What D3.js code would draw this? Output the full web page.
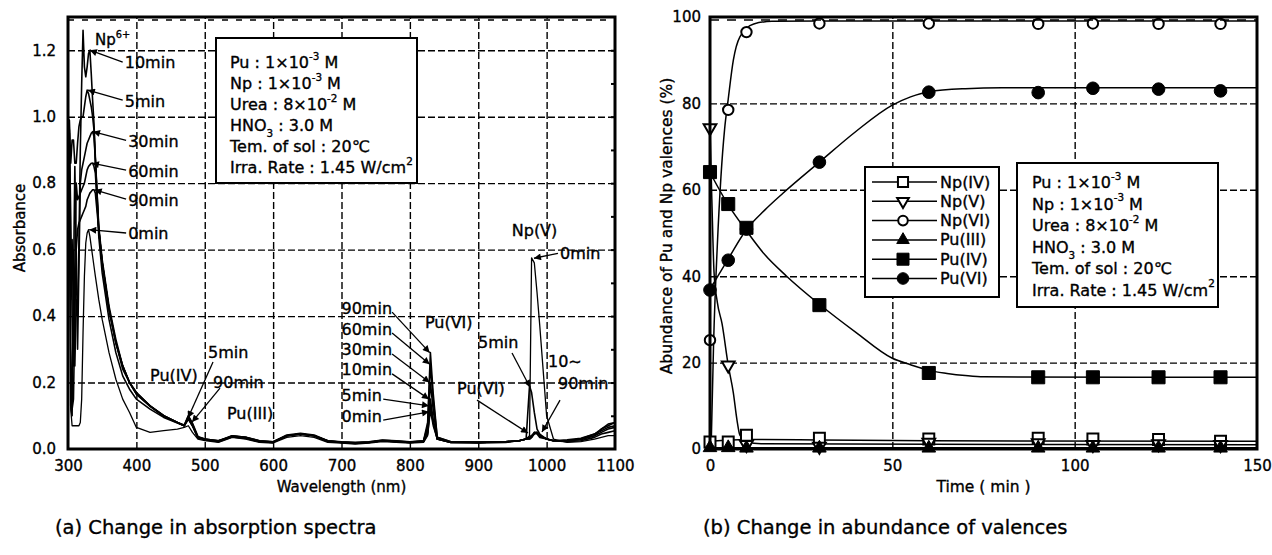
<!DOCTYPE html>
<html>
<head>
<meta charset="utf-8">
<script src="https://cdn.jsdelivr.net/npm/d3@7"></script>
<style>
  html, body { margin: 0; padding: 0; background: #fff; }
  svg { display: block; font-family: "DejaVu Sans", "Noto Sans", sans-serif; }
  svg text { stroke: #000; stroke-width: 0.35px; }
</style>
</head>
<body>
<svg id="chart" width="1272" height="555"></svg>
<script>
// ================= data : (a) absorption spectra =================
const wavelengths = [
  300,302,304,306,308,310,312,314,316,318,320,322,324,326,328,330,332,334,336,338,340,
  345,350,360,370,380,390,400,420,440,460,470,476,482,490,500,
  520,540,560,580,600,620,640,660,680,700,720,740,760,780,800,820,
  826,830,834,840,860,
  900,940,960,970,975,978,982,986,990,1000,1010,
  1030,1050,1070,1080,1090,1100
];
const abs0min = [
  0.98,0.97,0.12,0.07,0.07,0.07,0.07,0.07,0.07,0.08,0.15,0.35,0.52,0.62,0.65,0.66,0.64,0.61,0.58,0.55,0.52,
  0.45,0.39,0.29,0.21,0.15,0.11,0.065,0.05,0.055,0.06,0.065,0.07,0.05,0.03,0.025,
  0.02,0.035,0.03,0.02,0.018,0.035,0.04,0.035,0.02,0.018,0.015,0.018,0.022,0.02,0.018,0.02,
  0.04,0.115,0.07,0.03,0.02,
  0.018,0.02,0.025,0.03,0.04,0.575,0.56,0.47,0.37,0.1,0.03,
  0.02,0.022,0.03,0.035,0.04,0.04
];
const abs5min = [
  0.99,0.99,0.86,0.93,0.93,0.86,0.86,0.92,0.97,0.99,1.0,1.0,1.03,1.06,1.08,1.07,1.05,1.03,1.0,0.96,0.87,
  0.64,0.53,0.39,0.29,0.22,0.18,0.15,0.12,0.095,0.078,0.07,0.095,0.07,0.035,0.03,
  0.022,0.04,0.035,0.022,0.02,0.04,0.045,0.04,0.022,0.02,0.017,0.02,0.025,0.022,0.02,0.022,
  0.045,0.13,0.08,0.03,0.02,
  0.02,0.02,0.025,0.03,0.19,0.17,0.11,0.06,0.045,0.03,0.025,
  0.022,0.025,0.035,0.045,0.05,0.055
];
const abs10min = [
  0.98,0.62,0.45,0.63,0.40,0.25,0.45,0.40,0.62,0.90,1.10,1.26,1.15,1.12,1.15,1.19,1.20,1.13,1.05,0.98,0.88,
  0.66,0.56,0.42,0.32,0.25,0.2,0.17,0.13,0.10,0.08,0.07,0.10,0.075,0.035,0.03,
  0.025,0.04,0.035,0.025,0.022,0.04,0.045,0.04,0.025,0.02,0.018,0.02,0.025,0.022,0.02,0.022,
  0.05,0.15,0.09,0.03,0.02,
  0.02,0.022,0.025,0.03,0.03,0.035,0.05,0.05,0.04,0.03,0.025,
  0.025,0.028,0.04,0.05,0.06,0.065
];
const abs30min = [
  0.97,0.95,0.13,0.10,0.50,0.85,0.60,0.30,0.55,0.80,0.84,0.86,0.88,0.90,0.92,0.93,0.94,0.95,0.955,0.94,0.87,
  0.67,0.57,0.43,0.33,0.25,0.2,0.17,0.13,0.10,0.08,0.072,0.10,0.078,0.038,0.03,
  0.025,0.038,0.035,0.025,0.022,0.042,0.047,0.042,0.025,0.022,0.02,0.022,0.027,0.025,0.022,0.025,
  0.06,0.2,0.12,0.03,0.02,
  0.02,0.022,0.025,0.03,0.03,0.035,0.045,0.05,0.04,0.03,0.025,
  0.025,0.03,0.045,0.055,0.065,0.07
];
const abs60min = [
  0.98,0.96,0.70,0.40,0.25,0.55,0.80,0.75,0.76,0.77,0.78,0.79,0.80,0.82,0.84,0.85,0.855,0.86,0.86,0.85,0.83,
  0.66,0.56,0.42,0.32,0.25,0.2,0.165,0.13,0.10,0.08,0.07,0.09,0.07,0.035,0.028,
  0.022,0.036,0.032,0.022,0.02,0.04,0.046,0.04,0.024,0.02,0.018,0.02,0.025,0.023,0.02,0.024,
  0.07,0.255,0.15,0.035,0.022,
  0.02,0.022,0.025,0.03,0.035,0.04,0.05,0.045,0.035,0.03,0.025,
  0.025,0.03,0.04,0.06,0.07,0.08
];
const abs90min = [
  0.97,0.90,0.30,0.12,0.15,0.40,0.60,0.66,0.68,0.69,0.70,0.71,0.72,0.73,0.75,0.76,0.77,0.775,0.78,0.78,0.77,
  0.66,0.56,0.42,0.32,0.24,0.2,0.165,0.128,0.098,0.08,0.07,0.09,0.07,0.033,0.028,
  0.025,0.037,0.033,0.024,0.021,0.04,0.045,0.04,0.024,0.021,0.019,0.021,0.026,0.024,0.021,0.025,
  0.08,0.29,0.17,0.035,0.022,
  0.02,0.022,0.025,0.03,0.035,0.04,0.045,0.05,0.04,0.03,0.025,
  0.028,0.032,0.045,0.06,0.075,0.08
];
const wavelengthTicks = [300,400,500,600,700,800,900,1000,1100];
const absorbanceTicks = [0,0.2,0.4,0.6,0.8,1,1.2];

// ================= data : (b) abundance of valences =================
const times = [0,5,10,30,60,90,105,123,140];
const npIV  = [1.6,1.6,3.2,2.5,2.3,2.5,2.3,2.2,1.8];
const npV   = [74.3,19.4,1.0,0.6,1.5,1.4,1.0,1.2,1.0];
const npVI  = [25.2,78.5,96.5,98.5,98.5,98.4,98.5,98.4,98.4];
const puIII = [0.3,0.3,0.2,0.2,0.2,0.2,0.2,0.2,0.2];
const puIV  = [64.1,56.7,51.2,33.3,17.6,16.6,16.6,16.6,16.6];
const puVI  = [36.8,43.7,50.9,66.4,82.6,82.5,83.5,83.3,82.9];
// fitted trend lines, [time, %]
const npIVFit  = [[0,1.8],[10,2.2],[30,2.1],[60,1.9],[150,1.8]];
const npVFit   = [[0,74],[0.5,58],[1.1,41],[2,34],[3.3,29],[5,19.4],[6.4,13],[7.4,6.7],[8.2,3.2],[10,1.8],[14,1.2],[150,1.0]];
const npVIFit  = [[0.3,0],[1,25],[2,47],[3,63],[4,74],[5,81],[6.4,90],[8.2,95.4],[12,98.4],[17,99],[30,99.1],[150,99.1]];
const puIIIFit = [[0,0.3],[150,0.3]];
const puIVFit  = [[0,64],[5,56.5],[10,50.5],[15,45],[21,40],[30,33.5],[40,27],[50,21],[55,19.5],[60,18.2],[65,17.5],[70,17],[75,16.7],[150,16.6]];
const puVIFit  = [[0,37],[5,44],[10,50.8],[15,55.3],[20,59.2],[30,66.4],[40,73.5],[50,79.6],[55,81.5],[60,82.7],[70,83.4],[80,83.6],[150,83.6]];
const timeTicks = [0,50,100,150];
const percentTicks = [0,20,40,60,80,100];
const valenceNames = ["Np(IV)","Np(V)","Np(VI)","Pu(III)","Pu(IV)","Pu(VI)"];

// ================= drawing =================
const svg = d3.select("#chart");
const FONT_TICK = 15;

svg.append("defs").append("marker")
  .attr("id","arrowhead").attr("viewBox","0 0 10 10")
  .attr("refX",10).attr("refY",5)
  .attr("markerWidth",9).attr("markerHeight",7)
  .attr("markerUnits","userSpaceOnUse").attr("orient","auto")
  .append("path").attr("d","M0,0 L10,5 L0,10 Z").attr("fill","#000");

// writes a line of text made of plain / superscript / subscript runs
function richText(g, x, y, runs, size) {
  const t = g.append("text").attr("x", x).attr("y", y)
    .attr("dominant-baseline","central").attr("font-size", size).attr("fill","#000");
  let shift = 0;
  runs.forEach(r => {
    const s = t.append("tspan").text(r.t);
    let target = 0;
    if (r.sup) target = -size * 0.4;
    if (r.sub) target = size * 0.5;
    s.attr("dy", target - shift);
    if (r.sup || r.sub) s.attr("font-size", size * 0.65);
    shift = target;
  });
  return t;
}

function conditionBox(x, y, w, h, rowY, pad, size) {
  const g = svg.append("g");
  g.append("rect").attr("x",x).attr("y",y).attr("width",w).attr("height",h)
    .attr("fill","#fff").attr("stroke","#000").attr("stroke-width",2);
  const lines = [
    [{t:"Pu : 1×10"},{t:"-3",sup:true},{t:" M"}],
    [{t:"Np : 1×10"},{t:"-3",sup:true},{t:" M"}],
    [{t:"Urea : 8×10"},{t:"-2",sup:true},{t:" M"}],
    [{t:"HNO"},{t:"3",sub:true},{t:" : 3.0 M"}],
    [{t:"Tem. of sol : 20℃"}],
    [{t:"Irra. Rate : 1.45 W/cm"},{t:"2",sup:true}]
  ];
  lines.forEach((runs,i) => richText(g, x + pad, rowY[i], runs, size));
}

function styleTicks(sel) {
  sel.selectAll("text").attr("font-size",FONT_TICK)
    .attr("font-family","DejaVu Sans").attr("fill","#000");
}

// ---------- panel (a) ----------
const A = {left:68, right:615, top:17, bottom:449};
const xA = d3.scaleLinear().domain([300,1100]).range([A.left, A.right]);
const yA = d3.scaleLinear().domain([0,1.3]).range([A.bottom, A.top]);
const gA = svg.append("g");

svg.select("defs").append("clipPath").attr("id","clipA")
  .append("rect").attr("x",A.left).attr("y",A.top)
  .attr("width",A.right-A.left).attr("height",A.bottom-A.top);

// dashed grid
gA.append("g").attr("transform",`translate(0,${A.bottom})`)
  .call(d3.axisBottom(xA).tickValues(wavelengthTicks.slice(1,-1)).tickSize(-(A.bottom-A.top)).tickFormat(""))
  .call(g => g.select(".domain").remove())
  .selectAll("line").attr("stroke","#000").attr("stroke-width",1.4).attr("stroke-dasharray","7,3");
gA.append("g").attr("transform",`translate(${A.left},0)`)
  .call(d3.axisLeft(yA).tickValues(absorbanceTicks.slice(1)).tickSize(-(A.right-A.left)).tickFormat(""))
  .call(g => g.select(".domain").remove())
  .selectAll("line").attr("stroke","#000").attr("stroke-width",1.4).attr("stroke-dasharray","7,3");

// spectra
const spectra = [
  {label:"0min", values:abs0min, width:1.3},
  {label:"5min", values:abs5min, width:1.6},
  {label:"10min", values:abs10min, width:1.6},
  {label:"30min", values:abs30min, width:1.6},
  {label:"60min", values:abs60min, width:1.6},
  {label:"90min", values:abs90min, width:1.6}
];
const lineA = d3.line().x((d,i) => xA(wavelengths[i])).y(d => yA(d));
gA.append("g").attr("clip-path","url(#clipA)")
  .selectAll("path").data(spectra).join("path")
  .attr("d", d => lineA(d.values))
  .attr("fill","none").attr("stroke","#000")
  .attr("stroke-width", d => d.width).attr("stroke-linejoin","round");

// frame + inner ticks
gA.append("rect").attr("x",A.left).attr("y",A.top)
  .attr("width",A.right-A.left).attr("height",A.bottom-A.top)
  .attr("fill","none").attr("stroke","#000").attr("stroke-width",3);
gA.append("line").attr("x1",A.left).attr("x2",A.right).attr("y1",A.top+3).attr("y2",A.top+3)
  .attr("stroke","#000").attr("stroke-width",1.3).attr("stroke-dasharray","6,8");
gA.append("g").attr("transform",`translate(${A.right},0)`)
  .call(d3.axisLeft(yA).tickValues(d3.range(0.1,1.3,0.1)).tickSize(4).tickFormat(""))
  .call(g => g.select(".domain").remove())
  .selectAll("line").attr("stroke","#000").attr("stroke-width",2);

// tick labels
gA.append("g").attr("transform",`translate(0,${A.bottom})`)
  .call(d3.axisBottom(xA).tickValues(wavelengthTicks).tickFormat(d3.format("d")).tickSize(0).tickPadding(11))
  .call(g => g.select(".domain").remove())
  .call(styleTicks);
gA.append("g").attr("transform",`translate(${A.left},0)`)
  .call(d3.axisLeft(yA).tickValues(absorbanceTicks).tickSize(0).tickPadding(12))
  .call(g => g.select(".domain").remove())
  .call(styleTicks);

gA.append("text").attr("x",(A.left+A.right)/2).attr("y",487)
  .attr("text-anchor","middle").attr("dominant-baseline","central")
  .attr("font-size",15).text("Wavelength (nm)");
gA.append("text").attr("transform","translate(20,228) rotate(-90)")
  .attr("text-anchor","middle").attr("dominant-baseline","central")
  .attr("font-size",15).text("Absorbance");

// annotations: label anchor (left, centre) and optional arrow, all in data units
const spectrumNotes = [
  {text:"10min", at:[383,1.164], from:[380,1.164], to:[332,1.2]},
  {text:"5min",  at:[383,1.047], from:[380,1.05],  to:[329,1.08]},
  {text:"30min", at:[388,0.926], from:[385,0.929], to:[336.5,0.955]},
  {text:"60min", at:[388,0.836], from:[385,0.839], to:[335,0.86]},
  {text:"90min", at:[388,0.749], from:[385,0.752], to:[339,0.78]},
  {text:"0min",  at:[388,0.647], from:[385,0.65],  to:[331,0.66]},
  {text:"90min", at:[700,0.424], from:[774,0.412], to:[829,0.29]},
  {text:"60min", at:[700,0.361], from:[774,0.349], to:[829,0.255]},
  {text:"30min", at:[700,0.298], from:[774,0.286], to:[829,0.2]},
  {text:"10min", at:[700,0.238], from:[774,0.226], to:[828,0.15]},
  {text:"5min",  at:[700,0.162], from:[761,0.150], to:[828,0.13]},
  {text:"0min",  at:[700,0.099], from:[761,0.087], to:[828,0.112]},
  {text:"Pu(VI)", at:[822,0.382]},
  {text:"Np(V)", at:[949,0.659]},
  {text:"0min",  at:[1019.6,0.589], from:[1016.6,0.589], to:[981.5,0.574]},
  {text:"5min",  at:[899.6,0.319], from:[949.4,0.289], to:[975.7,0.186]},
  {text:"Pu(VI)", at:[869,0.183], from:[898.2,0.147], to:[972.8,0.048]},
  {text:"10∼",   at:[1002,0.262]},
  {text:"90min", at:[1016.6,0.198], from:[1019.6,0.147], to:[993.2,0.051]},
  {text:"Pu(IV)", at:[420,0.22]},
  {text:"5min",  at:[504.8,0.289], from:[512.1,0.262], to:[475.5,0.093]},
  {text:"90min", at:[512.1,0.2015], from:[522.3,0.183], to:[481.4,0.081]},
  {text:"Pu(III)", at:[532.5,0.108]}
];
const notesA = gA.append("g");
spectrumNotes.forEach(n => {
  if (n.from) {
    notesA.append("line")
      .attr("x1",xA(n.from[0])).attr("y1",yA(n.from[1]))
      .attr("x2",xA(n.to[0])).attr("y2",yA(n.to[1]))
      .attr("stroke","#000").attr("stroke-width",1.3).attr("marker-end","url(#arrowhead)");
  }
  notesA.append("text").attr("x",xA(n.at[0])).attr("y",yA(n.at[1]))
    .attr("dominant-baseline","central").attr("font-size",16).text(n.text);
});
richText(notesA, xA(339.5), yA(1.23), [{t:"Np"},{t:"6+",sup:true}], 15);

conditionBox(216, 38, 201, 145, [62,83,104,125,146,167], 14, 16);

svg.append("text").attr("x",55).attr("y",527).attr("dominant-baseline","central")
  .attr("font-size",19.5).text("(a) Change in absorption spectra");

// ---------- panel (b) ----------
const B = {left:710, right:1257, top:17, bottom:449};
const xB = d3.scaleLinear().domain([0,150]).range([B.left, B.right]);
const yB = d3.scaleLinear().domain([0,100]).range([B.bottom, B.top]);
const gB = svg.append("g");

svg.select("defs").append("clipPath").attr("id","clipB")
  .append("rect").attr("x",B.left).attr("y",B.top)
  .attr("width",B.right-B.left).attr("height",B.bottom-B.top);

gB.append("g").attr("transform",`translate(0,${B.bottom})`)
  .call(d3.axisBottom(xB).tickValues(timeTicks.slice(1,-1)).tickSize(-(B.bottom-B.top)).tickFormat(""))
  .call(g => g.select(".domain").remove())
  .selectAll("line").attr("stroke","#000").attr("stroke-width",1.4).attr("stroke-dasharray","7,3");
gB.append("g").attr("transform",`translate(${B.left},0)`)
  .call(d3.axisLeft(yB).tickValues(percentTicks.slice(1,-1)).tickSize(-(B.right-B.left)).tickFormat(""))
  .call(g => g.select(".domain").remove())
  .selectAll("line").attr("stroke","#000").attr("stroke-width",1.4).attr("stroke-dasharray","7,3");

const valenceSeries = [
  {name:valenceNames[0], values:npIV,  fit:npIVFit,  symbol:d3.symbolSquare,   filled:false, size:120, rot:0},
  {name:valenceNames[1], values:npV,   fit:npVFit,   symbol:d3.symbolTriangle, filled:false, size:70,  rot:180},
  {name:valenceNames[2], values:npVI,  fit:npVIFit,  symbol:d3.symbolCircle,   filled:false, size:85,  rot:0},
  {name:valenceNames[3], values:puIII, fit:puIIIFit, symbol:d3.symbolTriangle, filled:true,  size:80,  rot:0},
  {name:valenceNames[4], values:puIV,  fit:puIVFit,  symbol:d3.symbolSquare,   filled:true,  size:170, rot:0},
  {name:valenceNames[5], values:puVI,  fit:puVIFit,  symbol:d3.symbolCircle,   filled:true,  size:125, rot:0}
];

const fitLine = d3.line().x(d => xB(d[0])).y(d => yB(d[1])).curve(d3.curveMonotoneX);
gB.append("g").attr("clip-path","url(#clipB)")
  .selectAll("path").data(valenceSeries).join("path")
  .attr("d", d => fitLine(d.fit))
  .attr("fill","none").attr("stroke","#000").attr("stroke-width",1.5);

function drawSymbol(g, s, cx, cy, scale) {
  g.append("path")
    .attr("d", d3.symbol().type(s.symbol).size(s.size * (scale || 1))())
    .attr("transform", `translate(${cx},${cy}) rotate(${s.rot})`)
    .attr("fill", s.filled ? "#000" : "#fff")
    .attr("stroke","#000").attr("stroke-width", s.filled ? 1 : 2);
}
const marksB = gB.append("g");
valenceSeries.forEach(s => {
  s.values.forEach((v,i) => drawSymbol(marksB, s, xB(times[i]), yB(v)));
});

gB.append("rect").attr("x",B.left).attr("y",B.top)
  .attr("width",B.right-B.left).attr("height",B.bottom-B.top)
  .attr("fill","none").attr("stroke","#000").attr("stroke-width",3);
gB.append("line").attr("x1",B.left).attr("x2",B.right).attr("y1",B.top+3).attr("y2",B.top+3)
  .attr("stroke","#000").attr("stroke-width",1.3).attr("stroke-dasharray","9,8");

gB.append("g").attr("transform",`translate(0,${B.bottom})`)
  .call(d3.axisBottom(xB).tickValues(timeTicks).tickSize(0).tickPadding(11))
  .call(g => g.select(".domain").remove())
  .call(styleTicks);
gB.append("g").attr("transform",`translate(${B.left},0)`)
  .call(d3.axisLeft(yB).tickValues(percentTicks).tickSize(0).tickPadding(9))
  .call(g => g.select(".domain").remove())
  .call(styleTicks);

gB.append("text").attr("x",(B.left+B.right)/2).attr("y",487)
  .attr("text-anchor","middle").attr("dominant-baseline","central")
  .attr("font-size",15.5).text("Time ( min )");
gB.append("text").attr("transform","translate(667,226) rotate(-90)")
  .attr("text-anchor","middle").attr("dominant-baseline","central")
  .attr("font-size",15.5).text("Abundance of Pu and Np valences (%)");

// legend
const legend = gB.append("g").attr("transform","translate(865,167)");
legend.append("rect").attr("width",134).attr("height",130)
  .attr("fill","#fff").attr("stroke","#000").attr("stroke-width",2);
valenceSeries.forEach((s,i) => {
  const y = 15 + i * 19.3;
  legend.append("line").attr("x1",7).attr("x2",72).attr("y1",y).attr("y2",y)
    .attr("stroke","#000").attr("stroke-width",1.5);
  drawSymbol(legend, s, 38, y, 0.85);
  legend.append("text").attr("x",75).attr("y",y).attr("dominant-baseline","central")
    .attr("font-size",16).text(s.name);
});

conditionBox(1017, 163, 201, 144, [182,203.5,225,246.5,268,289.5], 15, 16);

svg.append("text").attr("x",703).attr("y",527).attr("dominant-baseline","central")
  .attr("font-size",19.5).text("(b) Change in abundance of valences");
</script>
</body>
</html>
